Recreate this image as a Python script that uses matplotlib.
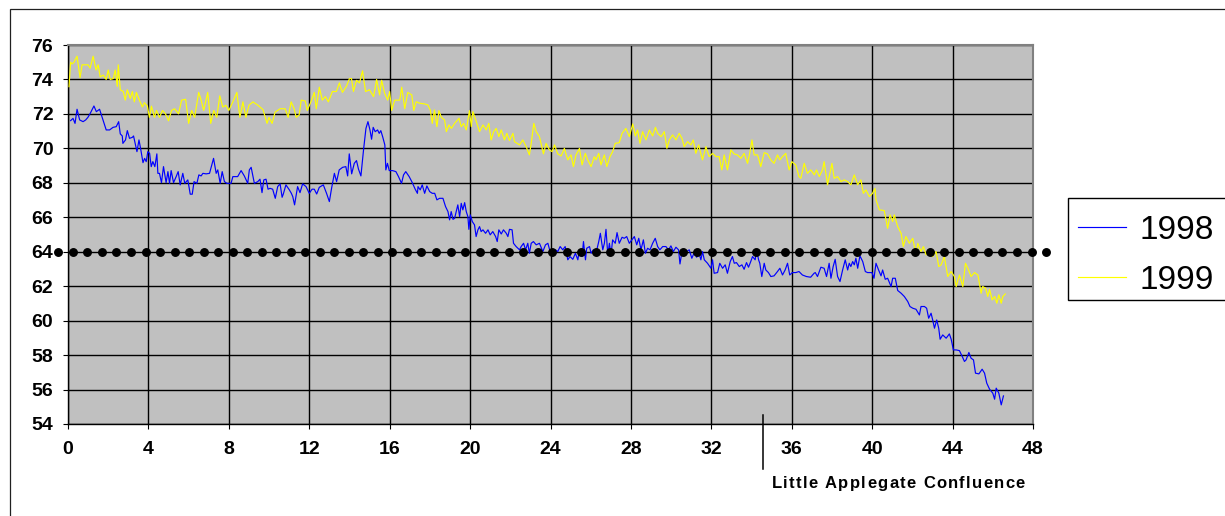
import matplotlib
matplotlib.use("Agg")
import matplotlib.pyplot as plt
from matplotlib.patches import Rectangle
from matplotlib.font_manager import FontProperties
import numpy as np

plt.rcParams['font.family'] = ['Liberation Sans', 'DejaVu Sans']

# ---------------- data ----------------
mile_1998 = [0.13, 0.25, 0.35, 0.45, 0.58, 0.75, 0.88, 0.99, 1.11, 1.29, 1.41, 1.52, 1.57, 1.74, 1.90, 2.07, 2.24, 2.40, 2.52, 2.60,
             2.70, 2.73, 2.86, 2.95, 3.06, 3.20, 3.26, 3.34, 3.43, 3.53, 3.61, 3.73, 3.81, 3.89, 3.97, 4.06, 4.14, 4.22, 4.32, 4.42,
             4.47, 4.55, 4.65, 4.75, 4.88, 4.97, 5.05, 5.13, 5.25, 5.38, 5.48, 5.58, 5.71, 5.81, 5.96, 6.08, 6.18, 6.27, 6.41, 6.51,
             6.62, 6.71, 6.87, 7.04, 7.24, 7.37, 7.45, 7.57, 7.67, 7.78, 7.90, 8.11, 8.20, 8.44, 8.61, 8.77, 8.94, 9.02, 9.11, 9.27,
             9.44, 9.55, 9.65, 9.74, 9.85, 9.95, 10.05, 10.18, 10.31, 10.43, 10.55, 10.65, 10.71, 10.84, 11.01, 11.11, 11.18, 11.27, 11.42, 11.54,
             11.67, 11.84, 12.00, 12.14, 12.25, 12.37, 12.50, 12.70, 12.86, 13.00, 13.11, 13.25, 13.36, 13.49, 13.66, 13.82, 13.91, 13.99, 14.11, 14.24,
             14.35, 14.45, 14.57, 14.70, 14.82, 14.92, 15.02, 15.10, 15.18, 15.28, 15.40, 15.48, 15.56, 15.65, 15.76, 15.81, 15.89, 15.98, 16.14, 16.31,
             16.44, 16.59, 16.69, 16.80, 16.97, 17.10, 17.27, 17.38,
             17.41, 17.52, 17.62, 17.74, 17.85, 17.99, 18.12, 18.24, 18.35, 18.48, 18.65, 18.78, 18.90, 18.98, 19.06, 19.15, 19.23, 19.31, 19.39, 19.48,
             19.56, 19.64, 19.73, 19.81, 19.89, 19.94, 20.01, 20.11, 20.22, 20.30, 20.39, 20.47, 20.55, 20.64, 20.77, 20.89, 21.00, 21.13, 21.27, 21.35,
             21.43, 21.55, 21.66, 21.80, 21.88, 21.96, 22.09, 22.16, 22.29, 22.46, 22.54, 22.66, 22.76, 22.87, 22.95, 23.04, 23.15, 23.29, 23.45, 23.62,
             23.75, 23.87, 23.98, 24.11, 24.25, 24.36, 24.48, 24.61, 24.73, 24.86, 24.97, 25.11, 25.24, 25.36, 25.44, 25.57, 25.64, 25.74, 25.80, 25.94,
             26.02, 26.13, 26.27, 26.40, 26.48, 26.60, 26.68, 26.76, 26.85, 26.93, 27.01, 27.09, 27.22, 27.31, 27.42, 27.56, 27.67, 27.79, 27.92, 28.05,
             28.17, 28.29, 28.39, 28.50, 28.62, 28.72, 28.83, 28.95, 29.08, 29.21, 29.33, 29.44, 29.58, 29.74, 29.87, 29.99, 30.11, 30.24, 30.37, 30.44,
             30.54, 30.65, 30.77, 30.90, 31.03, 31.15, 31.27, 31.40, 31.48, 31.56, 31.65, 31.81, 31.98, 32.06, 32.14, 32.31, 32.42, 32.56, 32.69, 32.80,
             32.94, 33.05, 33.14, 33.25, 33.39, 33.52, 33.63, 33.75, 33.85, 33.96, 34.05, 34.18, 34.25, 34.35, 34.41, 34.51, 34.63, 34.71, 34.84, 34.96,
             35.12, 35.29, 35.41, 35.54, 35.67, 35.79, 35.90, 36.03, 36.20, 36.36, 36.53, 36.73, 36.94, 37.11,
             37.17, 37.28, 37.45, 37.61, 37.73, 37.86, 37.95, 38.06, 38.16, 38.28, 38.40, 38.53, 38.66, 38.78, 38.86, 38.94, 39.03, 39.11, 39.19, 39.28,
             39.39, 39.53, 39.66, 39.77, 39.89, 39.99, 40.09, 40.19, 40.32, 40.44, 40.52, 40.65, 40.77, 40.94, 41.02, 41.15, 41.27, 41.44, 41.60, 41.77,
             41.88, 42.02, 42.18, 42.35, 42.43, 42.60, 42.71, 42.81, 42.93, 43.01, 43.10, 43.21, 43.31, 43.38, 43.51, 43.68, 43.84, 43.93, 44.04, 44.18,
             44.34, 44.48, 44.59, 44.67, 44.81, 44.92, 45.04, 45.14, 45.31, 45.47, 45.59, 45.70, 45.84, 46.00, 46.09, 46.17, 46.30, 46.42, 46.53]
temp_1998 = [71.61, 71.74, 71.45, 72.27, 71.65, 71.55, 71.65, 71.80, 72.04, 72.46, 72.13, 72.23, 72.27, 71.65, 71.07, 71.07, 71.22, 71.26, 71.55, 70.84,
             70.72, 70.29, 70.49, 71.03, 70.58, 70.64, 70.72, 70.29, 69.81, 70.49, 70.00, 69.17, 69.42, 69.23, 69.81, 69.71, 68.94, 69.23, 68.94, 69.68,
             68.55, 68.55, 68.01, 68.94, 68.01, 68.65, 67.97, 68.71, 68.01, 68.36, 68.65, 67.88, 68.55, 67.97, 68.17, 67.34, 67.34, 68.07, 67.97, 68.46,
             68.40, 68.55, 68.52, 68.55, 69.42, 68.55, 68.75, 67.97, 68.65, 68.07, 67.97, 67.97, 68.36, 68.36, 68.71, 68.40, 67.97, 68.75, 68.90, 67.97,
             68.07, 68.21, 67.43, 68.17, 68.21, 67.63, 67.68, 67.63, 67.10, 67.78, 67.94, 67.16, 67.35, 67.88, 67.59, 67.39, 67.20, 66.72, 67.78, 67.43,
             67.94, 67.78, 67.39, 67.63, 67.63, 67.35, 67.74, 67.88, 67.39, 66.91, 67.68, 68.55, 68.07, 68.75, 68.90, 68.94, 68.40, 69.68, 68.52, 69.13,
             69.29, 68.79, 68.40, 69.91, 71.16, 71.55, 71.07, 70.53, 71.22, 70.97, 71.07, 70.87, 71.03, 70.68, 70.20, 68.75, 69.13, 68.71, 68.71, 68.65,
             68.36, 67.97, 68.46, 68.65, 68.36, 68.07, 67.63, 67.39,
             67.78, 67.59, 67.88, 67.39, 67.82, 67.49, 67.39, 67.39, 67.01, 67.10, 67.10, 66.62, 66.33, 65.85, 66.33, 65.88, 65.94, 66.33, 66.72, 66.04,
             66.81, 66.43, 66.85, 66.33, 66.04, 65.30, 66.14, 65.75, 65.56, 64.88, 65.27, 65.46, 65.17, 65.27, 65.07, 65.27, 64.98, 65.17, 64.88, 64.59,
             65.27, 65.03, 65.27, 65.07, 64.88, 65.30, 65.27, 64.49, 64.30, 64.11, 64.30, 64.49, 64.11, 64.49, 63.91, 64.49, 64.59, 64.40, 64.49, 64.01,
             64.40, 64.49, 64.01, 63.76, 64.11, 64.01, 64.30, 64.11, 64.30, 63.53, 63.72, 63.56, 63.91, 63.53, 64.11, 63.72, 64.59, 63.53, 64.20, 64.30,
             63.91, 64.11, 63.95, 64.59, 65.07, 64.11, 64.49, 65.30, 63.82, 64.49, 63.82, 64.69, 64.49, 65.11, 64.49, 64.84, 64.78, 64.88, 64.49, 64.69,
             64.88, 64.40, 64.78, 64.11, 64.69, 63.91, 64.20, 64.11, 64.49, 64.78, 64.30, 64.11, 64.30, 64.30, 64.11, 64.34, 64.01, 64.26, 64.11, 63.29,
             64.01, 64.11, 64.01, 64.11, 63.62, 63.95, 63.68, 63.87, 63.53, 64.01, 63.53, 63.33, 63.04, 63.53, 62.75, 62.79, 63.33, 63.04, 63.24, 62.75,
             63.43, 63.72, 63.33, 63.37, 63.14, 63.24, 62.98, 63.37, 63.10, 63.43, 63.72, 63.53, 64.11, 63.53, 63.33, 62.56, 63.33, 62.94, 62.79, 62.56,
             62.60, 62.85, 63.04, 62.65, 62.94, 63.33, 62.65, 62.79, 62.79, 62.85, 62.65, 62.56, 62.52, 62.75,
             62.79, 62.56, 63.10, 63.04, 62.56, 63.33, 62.46, 63.14, 63.56, 62.56, 62.27, 62.94, 63.53, 62.94, 63.33, 63.14, 63.43, 63.24, 63.62, 63.04,
             63.76, 63.43, 62.85, 62.79, 62.79, 62.79, 62.46, 63.33, 62.94, 62.60, 62.94, 62.40, 62.46, 61.98, 62.46, 62.46, 61.75, 61.59, 61.40, 61.11,
             60.82, 60.72, 60.66, 60.33, 60.82, 60.82, 60.72, 60.14, 60.43, 60.04, 59.56, 60.04, 59.56, 58.92, 59.17, 58.98, 59.23, 58.92, 58.30, 58.30,
             58.26, 57.92, 57.63, 57.72, 58.15, 57.82, 57.72, 56.95, 56.91, 57.18, 56.95, 56.37, 56.02, 55.79, 55.44, 56.08, 55.79, 55.11, 55.63]

mile_1999 = [0.05, 0.13, 0.20, 0.30, 0.45, 0.60, 0.70, 1.00, 1.10, 1.25, 1.40, 1.50, 1.60, 1.75, 1.90, 2.00, 2.10, 2.25, 2.35, 2.45,
             2.50, 2.60, 2.75, 2.85, 2.95, 3.10, 3.20, 3.30, 3.40, 3.55, 3.70, 3.80, 3.95, 4.05, 4.15, 4.30, 4.40, 4.55, 4.70, 4.85,
             5.00, 5.15, 5.30, 5.50, 5.65, 5.85, 6.00, 6.15, 6.30, 6.50, 6.60, 6.75, 6.95, 7.10, 7.25, 7.40, 7.55, 7.70, 7.85, 8.00,
             8.20, 8.40, 8.55, 8.70, 8.85, 9.00, 9.20, 9.45, 9.70, 9.90, 10.00, 10.15, 10.30, 10.55, 10.80, 10.95, 11.10, 11.25, 11.35, 11.50,
             11.60, 11.80, 11.90, 12.10, 12.25, 12.35, 12.50, 12.65, 12.80, 12.95, 13.15, 13.35, 13.50, 13.65, 13.85, 14.00, 14.10, 14.20, 14.35, 14.50,
             14.65, 14.80, 15.00, 15.20, 15.35, 15.50, 15.60, 15.75, 15.90, 16.00, 16.10, 16.25, 16.50, 16.60, 16.75, 16.90, 17.10, 17.20,
             17.32, 17.49, 17.74, 17.90, 18.02, 18.12, 18.23, 18.35, 18.45, 18.57, 18.73, 18.82, 18.95, 19.07, 19.23, 19.45, 19.56, 19.68, 19.81, 19.97,
             20.06, 20.14, 20.31, 20.47, 20.64, 20.80, 20.93, 21.05, 21.17, 21.30, 21.43, 21.55, 21.71, 21.83, 21.96, 22.13, 22.21, 22.46, 22.62, 22.79,
             22.95, 23.04, 23.17, 23.29, 23.45, 23.65, 23.78, 23.95, 24.08, 24.20, 24.36, 24.53, 24.69, 24.86, 25.02, 25.14, 25.27, 25.44, 25.57, 25.73,
             25.85, 26.02, 26.18, 26.26, 26.40, 26.51, 26.68, 26.80, 26.96, 27.09, 27.22, 27.42, 27.56, 27.75, 27.92, 28.09, 28.22, 28.33, 28.45, 28.58,
             28.75, 28.92, 29.08, 29.22, 29.33, 29.50, 29.66, 29.79, 29.91, 30.07, 30.24, 30.40, 30.54, 30.65, 30.82, 30.98, 31.10, 31.23, 31.37, 31.56,
             31.73, 31.89, 32.06, 32.23, 32.39, 32.52, 32.64, 32.80, 32.97, 33.13, 33.30, 33.47, 33.63, 33.80, 33.91, 34.02, 34.13, 34.30, 34.46, 34.63,
             34.79, 34.96, 35.12, 35.29, 35.41, 35.54, 35.70, 35.87, 36.00, 36.20, 36.36,
             36.45, 36.62, 36.78, 36.95, 37.12, 37.23, 37.37, 37.53, 37.61, 37.78, 37.90, 38.00, 38.11, 38.28, 38.45, 38.61, 38.78, 38.94, 39.11, 39.28,
             39.44, 39.56, 39.69, 39.86, 40.02, 40.14, 40.19, 40.36, 40.60, 40.77, 40.89, 41.02, 41.10, 41.27, 41.44, 41.55, 41.68, 41.85, 42.02, 42.18,
             42.27, 42.43, 42.55, 42.68, 42.85, 43.01, 43.18, 43.31, 43.43, 43.59, 43.76, 43.93, 44.09, 44.18, 44.34, 44.51, 44.64, 44.76, 44.92, 45.09,
             45.26, 45.42, 45.50, 45.64, 45.75, 45.84, 45.97, 46.09, 46.20, 46.30, 46.42, 46.50, 46.62]
temp_1999 = [73.58, 75.00, 74.90, 75.00, 75.35, 74.10, 74.85, 74.85, 74.65, 75.35, 74.55, 74.85, 74.15, 74.25, 74.00, 74.55, 74.00, 74.05, 74.55, 73.60,
             74.85, 73.40, 73.30, 72.80, 73.40, 72.90, 73.30, 72.70, 73.25, 72.80, 72.40, 72.65, 72.45, 71.80, 72.45, 71.80, 72.20, 71.80, 72.20, 72.00,
             71.60, 72.20, 72.30, 72.00, 72.80, 72.85, 71.45, 72.20, 71.80, 73.25, 72.90, 72.20, 73.25, 71.45, 72.20, 71.80, 73.05, 72.40, 72.50, 72.20,
             72.70, 73.25, 71.80, 72.70, 71.80, 72.50, 72.70, 72.50, 72.25, 71.45, 71.80, 71.45, 72.10, 72.30, 72.30, 71.80, 72.70, 72.30, 71.80, 71.95,
             72.80, 72.75, 72.20, 72.75, 73.25, 72.30, 73.55, 72.80, 73.00, 72.70, 73.30, 73.30, 73.80, 73.25, 73.60, 74.05, 74.05, 73.30, 73.95, 73.80,
             74.50, 73.30, 73.40, 73.00, 74.00, 73.10, 73.95, 73.20, 72.80, 73.30, 72.20, 72.80, 72.80, 73.55, 72.30, 73.25, 73.10, 72.20,
             72.71, 72.62, 72.58, 72.52, 72.23, 71.45, 72.23, 71.26, 72.19, 71.80, 71.65, 70.97, 71.36, 71.16, 71.45, 71.75, 71.26, 71.45, 71.07, 72.19,
             71.26, 72.13, 71.55, 70.97, 71.36, 71.07, 71.45, 70.49, 70.97, 71.16, 70.68, 71.07, 70.49, 70.87, 70.45, 70.87, 70.39, 70.20, 70.49, 70.10,
             69.62, 70.29, 71.45, 70.97, 70.68, 69.68, 70.29, 69.91, 69.81, 70.20, 69.68, 69.56, 70.00, 69.33, 69.62, 68.94, 69.62, 70.00, 69.04, 69.71,
             69.33, 68.94, 69.52, 69.33, 69.71, 69.04, 69.62, 68.94, 69.52, 69.81, 70.29, 70.33, 70.87, 71.16, 70.68, 71.42, 70.72, 71.07, 70.29, 70.97,
             70.49, 71.07, 70.72, 71.22, 70.87, 70.68, 70.97, 70.00, 70.49, 70.78, 70.49, 70.87, 70.58, 70.10, 70.39, 70.20, 70.49, 69.71, 70.20, 69.33,
             70.10, 69.52, 69.71, 69.52, 69.52, 68.75, 69.62, 68.75, 69.91, 69.68, 69.62, 69.42, 69.71, 69.13, 69.71, 70.49, 69.62, 69.62, 68.94, 69.75,
             69.68, 69.33, 69.13, 69.62, 69.33, 69.52, 69.71, 68.75, 69.23, 69.04, 68.36,
             68.26, 69.13, 68.55, 68.75, 68.46, 68.75, 68.36, 68.75, 69.23, 67.88, 68.55, 69.13, 68.26, 68.36, 68.07, 68.17, 68.07, 67.88, 68.46, 67.88,
             68.17, 67.39, 67.59, 67.20, 67.39, 67.68, 67.01, 66.43, 66.39, 65.36, 66.14, 65.75, 66.14, 65.46, 65.07, 64.30, 64.88, 64.49, 64.78, 63.82,
             64.49, 64.01, 64.30, 63.82, 64.11, 63.72, 64.01, 63.14, 63.24, 63.72, 62.56, 62.85, 62.56, 61.98, 62.65, 61.98, 63.33, 63.04, 62.56, 62.79,
             62.65, 61.59, 61.98, 61.88, 61.40, 61.82, 61.20, 61.40, 61.01, 61.50, 61.01, 61.40, 61.55]

series_labels = ["1998", "1999"]
series_colors = ["#0000FF", "#FFFF00"]
x_ticks = list(range(0, 49, 4))
y_ticks = list(range(54, 77, 2))
threshold = 64
marker_mile = 34.55
marker_label = "Little Applegate Confluence"

# ---------------- figure ----------------
W, H = 1225, 516
fig = plt.figure(figsize=(W / 100, H / 100), dpi=100)
fig.patch.set_facecolor("white")

# outer frame
fig.add_artist(Rectangle((10 / W, -0.2), 2.0, (1 - 9 / H) + 0.2, transform=fig.transFigure,
                         fill=False, edgecolor="#202020", linewidth=0.9, zorder=-2))

ax = fig.add_axes([68 / W, 1 - 424 / H, (1033 - 68) / W, (424 - 45) / H])
ax.set_facecolor("#C0C0C0")
ax.set_xlim(0, 48)
ax.set_ylim(54, 76)
ax.set_xticks(x_ticks)
ax.set_yticks(y_ticks)
ax.grid(True, color="black", linewidth=1.0)
ax.set_axisbelow(True)
for side in ["top", "right"]:
    ax.spines[side].set_color("#808080")
    ax.spines[side].set_linewidth(1.5)
for side in ["left", "bottom"]:
    ax.spines[side].set_color("black")
    ax.spines[side].set_linewidth(1.0)
ax.tick_params(axis="both", direction="out", length=3.6, width=0.8, color="black",
               labelsize=14)
ax.tick_params(axis="x", pad=9)
ax.tick_params(axis="y", pad=7)
for lab in ax.get_xticklabels() + ax.get_yticklabels():
    lab.set_fontweight("bold")

l1, = ax.plot(mile_1998, temp_1998, color=series_colors[0], lw=0.85, label=series_labels[0], zorder=3)
l2, = ax.plot(mile_1999, temp_1999, color=series_colors[1], lw=0.85, label=series_labels[1], zorder=3)

# dotted threshold line (extends beyond the plot area)
dots_x = -0.48 + 0.7225 * np.arange(69)
ax.plot(dots_x, np.full_like(dots_x, threshold), linestyle="none", marker="o",
        markersize=5.4, color="black", clip_on=False, zorder=5)

# confluence marker
ax.plot([marker_mile, marker_mile], [0.024, -0.119], transform=ax.get_xaxis_transform(),
        color="black", lw=1.1, clip_on=False, zorder=6)

# legend (frame drawn separately, behind the axes layer: it runs past the image edge)
fig.add_artist(Rectangle((1068 / W, 1 - 300 / H), 0.2, 102 / H, transform=fig.transFigure,
                         facecolor="white", edgecolor="black", linewidth=1.0, zorder=-1))
leg = ax.legend(handles=[l1, l2], loc="upper left", bbox_to_anchor=(1068 / W, 1 - 205 / H),
                bbox_transform=fig.transFigure, borderaxespad=0, frameon=False,
                fontsize=24, handlelength=1.45, handletextpad=0.38, labelspacing=0.57,
                borderpad=0.3)

# letter-spaced annotation label
fig.canvas.draw()
renderer = fig.canvas.get_renderer()
fp = FontProperties(family="Liberation Sans", weight="bold", size=12)
def _w(s):
    return renderer.get_text_width_height_descent(s, fp, ismath=False)[0]
widths = [_w(ch) if ch != " " else _w("a a") - 2 * _w("a") for ch in marker_label]
x_start, x_end = 771.5, 1025.0
gap = ((x_end - x_start) - sum(widths)) / (len(marker_label) - 1)
xpos = x_start
for ch, w in zip(marker_label, widths):
    if ch != " ":
        fig.text(xpos / W, 1 - 488 / H, ch, fontproperties=fp, ha="left", va="baseline")
    xpos += w + gap

fig.savefig("out.png", dpi=100)
